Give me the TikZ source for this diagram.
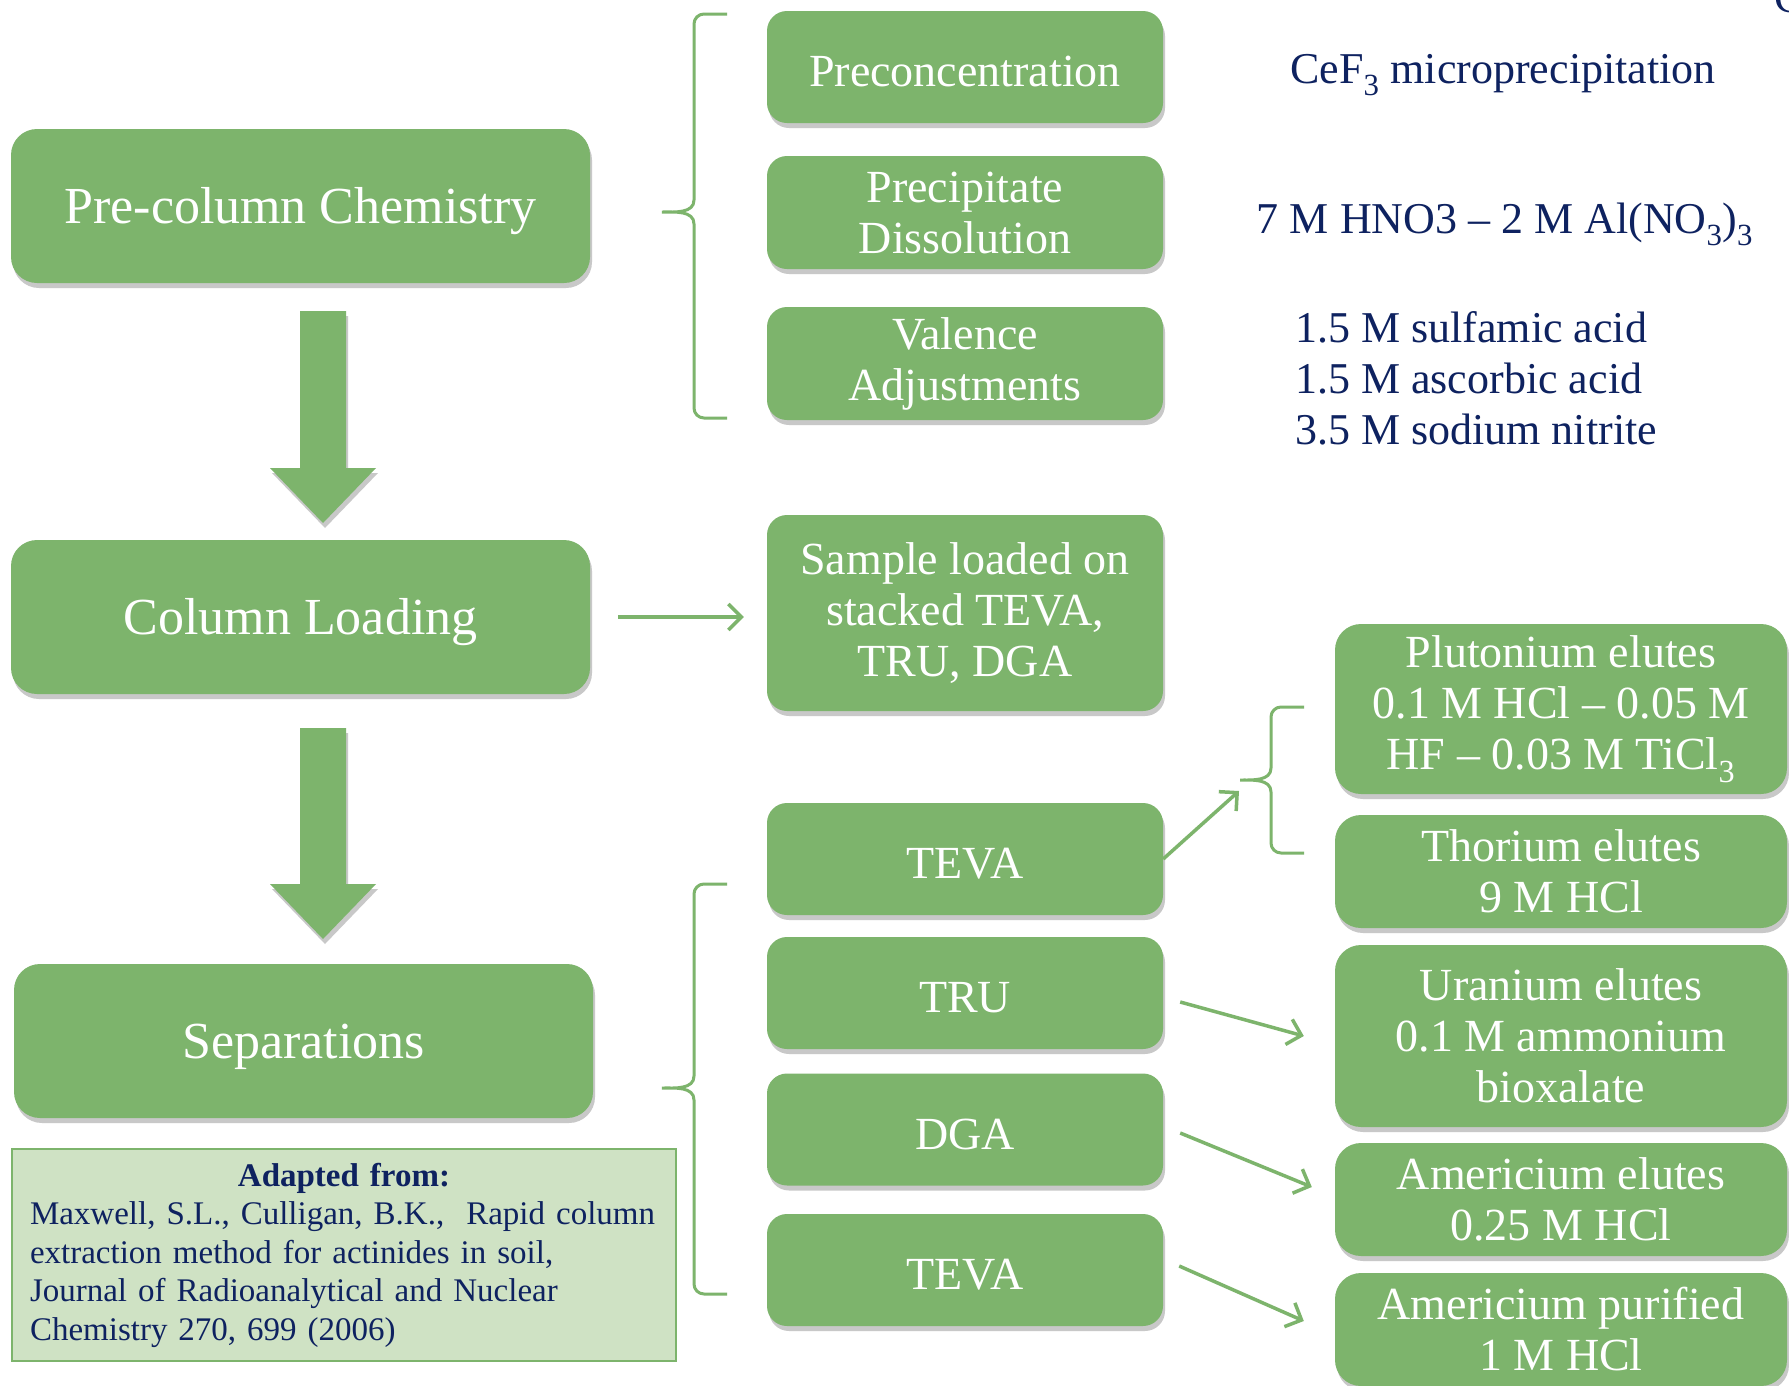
\documentclass[tikz,border=0pt]{standalone}
\usepackage{fontspec}
\setmainfont{Liberation Serif}
\usetikzlibrary{shadows,arrows.meta}
\definecolor{boxgreen}{RGB}{125,180,108}
\definecolor{navy}{RGB}{14,34,96}
\definecolor{citefill}{RGB}{207,226,196}
\tikzset{
  softshadow/.style={drop shadow={shadow xshift=2pt, shadow yshift=-5pt, opacity=0.3, fill=black!70}},
  stage/.style={fill=boxgreen, rounded corners=26pt, text=white, minimum width=579pt, minimum height=154pt, font=\fontsize{52}{58}\selectfont, text height=39pt, text depth=4pt, softshadow},
  stepbox/.style={fill=boxgreen, rounded corners=20pt, text=white, align=center, minimum width=396pt, minimum height=112pt, font=\fontsize{46}{51}\selectfont, softshadow},
  oneline/.style={text height=39pt, text depth=0pt},
  multi/.style={},
  elutebox/.style={stepbox, minimum width=452pt, rounded corners=26pt},
  reagent/.style={text=navy, font=\fontsize{44}{51}\selectfont, inner sep=0pt},
  flow/.style={draw=boxgreen, line width=3.5pt, -{Straight Barb[length=13pt,width=26pt]}},
  bracket/.style={draw=boxgreen, line width=3pt},
  bigarrow/.style={fill=boxgreen, softshadow}
}
\begin{document}
\begin{tikzpicture}[x=1pt,y=-1pt]
\fill[white] (0,0) rectangle (1789,1385);
\useasboundingbox (0,0) rectangle (1789,1385);

\node[stage] (pre) at (300.5,206) {Pre-column Chemistry};
\node[stage] (load) at (300.5,617) {Column Loading};
\node[stage] (sep) at (303.5,1041) {Separations};

\foreach \n/\y/\h/\o/\t in {preconc/67/112/oneline/Preconcentration, dissol/212.5/113/multi/{Precipitate\\Dissolution},
  valence/363.5/113/multi/{Valence\\Adjustments}, sample/613/196/multi/{Sample loaded on\\stacked TEVA,\\TRU, DGA},
  tevaA/859/112/oneline/TEVA, tru/993/112/oneline/TRU, dga/1129.5/112/oneline/DGA, tevaB/1270/112/oneline/TEVA}
	\node[stepbox, \o, minimum height=\h pt] (\n) at (965,\y) {\t};

\foreach \n/\y/\h/\t in {pu/709/170/{Plutonium elutes\\0.1 M HCl -- 0.05 M\\HF -- 0.03 M TiCl\textsubscript{3}},
  th/871.5/113/{Thorium elutes\\9 M HCl}, ur/1036/182/{Uranium elutes\\0.1 M ammonium\\bioxalate},
  am/1199.5/113/{Americium elutes\\0.25 M HCl}, ampur/1329.5/113/{Americium purified\\1 M HCl}}
	\node[elutebox, minimum height=\h pt] (\n) at (1561,\y) {\t};

\node[reagent] (cef) at (1503,75) {CeF\textsubscript{3} microprecipitation};
\node[reagent] (hno) at (1505,224) {7 M HNO3 -- 2 M Al(NO\textsubscript{3})\textsubscript{3}};
\node[reagent, anchor=west, align=left] (acids) at (1295,378) {1.5 M sulfamic acid\\1.5 M ascorbic acid\\3.5 M sodium nitrite};
\node[reagent, anchor=base west] (cedge) at (1774,12) {C};

\node[fill=citefill, draw=boxgreen, line width=2pt, text=navy, inner xsep=18pt, text width=628pt,
  minimum height=212pt, font=\fontsize{33}{38.5}\selectfont] (cite) at (344,1255)
  {\centering\textbf{Adapted from:}\par\raggedright Maxwell, S.L., Culligan, B.K.,\ \ Rapid column\\
  extraction method for actinides in soil,\\ Journal of Radioanalytical and Nuclear\\ Chemistry 270, 699 (2006)\par};

\foreach \top/\bot in {311/523, 728/939}
	\fill[bigarrow] (300,\top) -- (346,\top) -- (346,{\bot-55}) -- (376,{\bot-55}) -- (323,\bot)
		-- (270,{\bot-55}) -- (300,{\bot-55}) -- cycle;

\foreach \tx/\vx/\ex/\ty/\my/\by in {662/694/727/14/212/418, 662/694/727/884/1088/1294, 1240/1271/1304/707/780/853}
	\draw[bracket] (\ex,\ty) -- ({\vx+10},\ty) to[out=180,in=90] (\vx,{\ty+10}) -- (\vx,{\my-12})
		to[out=-90,in=0] (\tx,\my) to[out=0,in=90] (\vx,{\my+12}) -- (\vx,{\by-10})
		to[out=-90,in=180] ({\vx+10},\by) -- (\ex,\by);

\coordinate (putip) at (1239,791);
\draw[flow, shorten <=28pt, shorten >=23pt] (load.east) -- (load.east -| sample.west);
\draw[flow] (tevaA.east) -- (putip);
\draw[flow] ([xshift=17pt,yshift=-9pt]tru.east) -- ([xshift=-31pt]ur.west);
\draw[flow] ([xshift=17pt,yshift=-3.5pt]dga.east) -- ([xshift=-23pt,yshift=12.5pt]am.west);
\draw[flow] ([xshift=16pt,yshift=4pt]tevaB.east) -- ([xshift=-31pt,yshift=8.5pt]ampur.west);
\end{tikzpicture}
\end{document}
